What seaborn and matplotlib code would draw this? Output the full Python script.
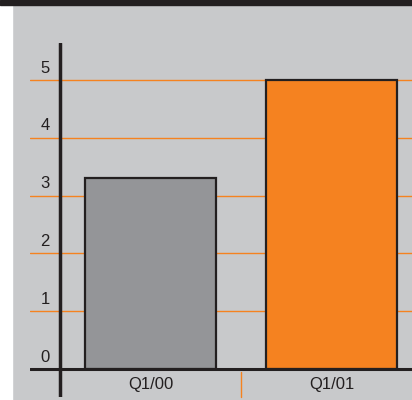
import matplotlib
matplotlib.use("Agg")
import matplotlib.pyplot as plt
import seaborn as sns
from matplotlib.patches import Rectangle

categories = ["Q1/00", "Q1/01"]
values = [3.3, 5.0]
y_ticks = [0, 1, 2, 3, 4, 5]
bar_colors = ["#949598", "#f58220"]

BG = "#c8c9cb"
ORANGE = "#f58220"
DARK = "#231f20"

sns.set_theme(style="white")
plt.rcParams['font.family'] = ['Liberation Sans Narrow', 'Liberation Sans', 'DejaVu Sans']

W, H = 412, 400
fig = plt.figure(figsize=(W / 100, H / 100), dpi=100)
fig.patch.set_facecolor(BG)
# white strip on the left and black band at top
fig.add_artist(Rectangle((0, 0), 12 / W, 1, transform=fig.transFigure, color="white", zorder=0))
fig.add_artist(Rectangle((0, 1 - 5 / H), 1, 5 / H, transform=fig.transFigure, color=DARK, zorder=0))

# axes spans px x 30..412, y 43..397
left, right, top, bottom = 30, 412, 43, 397
ax = fig.add_axes([left / W, 1 - bottom / H, (right - left) / W, (bottom - top) / H])
ax.set_facecolor("none")

for yv in y_ticks[1:]:
    ax.axhline(yv, color=ORANGE, lw=1, zorder=0)

sns.barplot(x=categories, y=values, hue=categories, palette=bar_colors, legend=False,
            saturation=1, width=0.72, edgecolor=DARK, linewidth=1.6, ax=ax, zorder=2)

px_per_x = 181.0
px_per_y = 57.8
ax.set_xlim(-0.5 - (60 - left) / px_per_x, -0.5 + (right - 60) / px_per_x)
ax.set_ylim((369 - bottom) / px_per_y, (369 - top) / px_per_y)

ax.axhline(0, color=DARK, lw=2.2, zorder=4)
ax.axvline(-0.5, color=DARK, lw=2.5, zorder=4)
ax.plot([0.5, 0.5], [-0.06, (369 - bottom) / px_per_y], color=ORANGE, lw=1, zorder=3, clip_on=False)

for yv in y_ticks:
    ax.text(-0.5 - 15 / px_per_x, yv + 12 / px_per_y, str(yv), ha="center", va="center",
            fontsize=12, color="#231f20")
for i, c in enumerate(categories):
    ax.text(i, -16 / px_per_y, c, ha="center", va="center", fontsize=12, color="#231f20")

ax.set_xticks([])
ax.set_yticks([])
ax.set_xlabel("")
ax.set_ylabel("")
for s in ax.spines.values():
    s.set_visible(False)

fig.savefig("out.png", dpi=100, facecolor=fig.get_facecolor())
